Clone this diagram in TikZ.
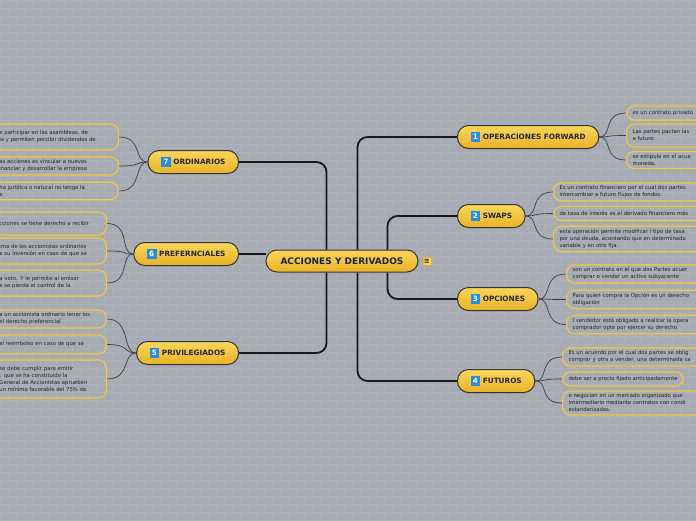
\documentclass[tikz,border=0pt]{standalone}
\usepackage{fontspec}
\setmainfont{DejaVu Sans}
\usetikzlibrary{positioning, calc, backgrounds}

\definecolor{bgGray}{RGB}{166,171,180}
\definecolor{brickLine}{RGB}{173,178,186}
\definecolor{ylwTop}{RGB}{250,214,92}
\definecolor{ylwBot}{RGB}{233,178,38}
\definecolor{leafEdge}{RGB}{244,198,66}
\definecolor{navy}{RGB}{26,36,66}
\definecolor{badgeBlue}{RGB}{40,140,225}
\definecolor{twigGray}{RGB}{58,62,68}
\definecolor{inkGray}{RGB}{34,34,34}

\newcommand{\numbadge}[1]{{\setlength{\fboxsep}{2.1pt}\colorbox{badgeBlue}{\makebox[5.6pt]{\color{white}#1}}}}

\begin{document}
\begin{tikzpicture}[x=1pt, y=-1pt,
  root/.style={rectangle, rounded corners=11pt, draw=black!80, line width=1pt,
               top color=ylwTop, bottom color=ylwBot, minimum width=152pt, minimum height=22pt,
               font=\fontsize{9}{10}\selectfont\bfseries, text=navy},
  branch/.style={rectangle, rounded corners=11pt, draw=black!80, line width=1pt,
                 top color=ylwTop, bottom color=ylwBot, minimum height=23pt, inner xsep=13pt,
                 font=\fontsize{7.3}{8}\selectfont\bfseries, text=black!85},
  leaf/.style={rectangle, rounded corners=8pt, draw=leafEdge, line width=1.2pt, minimum height=14pt,
               inner xsep=6pt, inner ysep=3pt, align=left, font=\fontsize{5.3}{7}\selectfont, text=inkGray},
  trunk/.style={line width=1.8pt, draw=black!90, rounded corners=10pt},
  twig/.style={line width=0.7pt, draw=twigGray}
]
\useasboundingbox (0,0) rectangle (696,520);
\clip (0,0) rectangle (696,520);

% centre
\node[root] (acc) at (342,261) {ACCIONES Y DERIVADOS};
\node[fill=ylwTop, draw=ylwBot, inner sep=0.6pt, minimum size=8pt, font=\fontsize{7}{7}\selectfont\bfseries,
      text=navy, right=4pt of acc] (note) {≡};

% derivados
\node[branch, anchor=west] (fwd) at (457,137) {\numbadge{1} OPERACIONES FORWARD};
\node[branch, anchor=west] (swp) at (457,216) {\numbadge{2} SWAPS};
\node[branch, anchor=west] (opc) at (457,299) {\numbadge{3} OPCIONES};
\node[branch, anchor=west] (fut) at (457,381) {\numbadge{4} FUTUROS};

% acciones
\node[branch, anchor=east] (ord) at (239,162) {\numbadge{7} ORDINARIOS};
\node[branch, anchor=east] (pre) at (239,254) {\numbadge{6} PREFERNCIALES};
\node[branch, anchor=east] (pri) at (239,353) {\numbadge{5} PRIVILEGIADOS};

% leaves, right
\node[leaf, anchor=west, text width=150pt] (f1) at (626,113) {es un contrato privado};
\node[leaf, anchor=west, text width=150pt, minimum height=23pt] (f2) at (626,135.5) {Las partes pactan las\\a futuro.};
\node[leaf, anchor=west, text width=150pt] (f3) at (626,160) {se estipula en el acue\\moneda.};

\node[leaf, anchor=west, text width=150pt] (s1) at (553,192) {Es un contrato financiero por el cual dos partes\\intercambiar a futuro flujos de fondos.};
\node[leaf, anchor=west, text width=150pt] (s2) at (553,213.5) {de tasa de interés es el derivado financiero más};
\node[leaf, anchor=west, text width=150pt] (s3) at (553,239) {esta operación permite modificar l tipo de tasa\\por una deuda, acordando que en determinado\\variable y en otro fija.};

\node[leaf, anchor=west, text width=150pt] (o1) at (566,274) {son un contrato en el que dos Partes acuer\\comprar o vender un activo subyacente};
\node[leaf, anchor=west, text width=150pt] (o2) at (566,299.5) {Para quien compra la Opción es un derecho\\obligación};
\node[leaf, anchor=west, text width=150pt] (o3) at (566,324.5) {l vendedor está obligado a realizar la opera\\comprador opta por ejercer su derecho.};

\node[leaf, anchor=west, text width=150pt] (u1) at (562,357) {Es un acuerdo por el cual dos partes se oblig\\comprar y otra a vender, una determinada ca};
\node[leaf, anchor=west] (u2) at (562,379) {debe ser a precio fijado anticipadamente};
\node[leaf, anchor=west, text width=150pt] (u3) at (562,403) {e negocian en un mercado organizado que\\intermediario mediante contratos con condi\\estandarizadas.};

% leaves, left
\node[leaf, anchor=east, text width=113pt, minimum height=26pt] (r1) at (119,137) {e participar en las asambleas, de\\ia y permiten percibir dividendos de};
\node[leaf, anchor=east, text width=113pt] (r2) at (119,166) {as acciones es vincular a nuevos\\inanciar y desarrollar la empresa};
\node[leaf, anchor=east, text width=113pt] (r3) at (119,191) {na jurídica o natural no tenga la\\e};

\node[leaf, anchor=east, text width=101pt, minimum height=23pt] (p1) at (107,223.5) {cciones se tiene derecho a recibir};
\node[leaf, anchor=east, text width=101pt, minimum height=26pt] (p2) at (107,251) {ima de los accionistas ordinarios\\e su inversión en caso de que se};
\node[leaf, anchor=east, text width=101pt, minimum height=26pt] (p3) at (107,283) {a voto. Y le permite al emisor\\e se pierda el control de la};

\node[leaf, anchor=east, text width=101pt] (v1) at (107,319) {a un accionista ordinario tener los\\el derecho preferencial};
\node[leaf, anchor=east, text width=101pt, minimum height=19pt] (v2) at (107,344.5) {el reembolso en caso de que se};
\node[leaf, anchor=east, text width=101pt, minimum height=38pt] (v3) at (107,379) {se debe cumplir para emitir\\: que se ha constituido la\\General de Accionistas aprueben\\un mínimo favorable del 75\% de};

\begin{scope}[on background layer]
  \clip (0,0) rectangle (696,520);
  \fill[bgGray] (0,0) rectangle (696,520);
  % brick texture
  \foreach \r [evaluate=\r as \off using {mod(\r,2)*8}] in {0,...,65} {
    \draw[brickLine, line width=0.5pt] (0,\r*8) -- (696,\r*8);
    \foreach \c in {0,...,44}
      \draw[brickLine, line width=0.5pt] ({\c*16+\off},{\r*8}) -- ++(0,8);
  }

  % main branches
  \draw[trunk] (ord.east) -| ([xshift=61pt]acc.north west);
  \draw[trunk] (pre.east) -- (pre.east -| acc.west);
  \draw[trunk] (pri.east) -| ([xshift=61pt]acc.south west);
  \draw[trunk] ([xshift=92pt]acc.north west) |- (fwd.west);
  \draw[trunk] ([xshift=122pt]acc.north west) |- (swp.west);
  \draw[trunk] ([xshift=122pt]acc.south west) |- (opc.west);
  \draw[trunk] ([xshift=92pt]acc.south west) |- (fut.west);

  % twigs
  \foreach \b/\l in {fwd/f1, fwd/f2, fwd/f3, swp/s1, swp/s2, swp/s3, opc/o1, opc/o2, opc/o3, fut/u1, fut/u2, fut/u3}
    \draw[twig] (\b.east) .. controls +(14,0) and +(-24,0) .. (\l.west);
  \foreach \b/\l in {ord/r1, ord/r2, ord/r3, pre/p1, pre/p2, pre/p3, pri/v1, pri/v2, pri/v3}
    \draw[twig] (\b.west) .. controls +(-14,0) and +(24,0) .. (\l.east);
\end{scope}
\end{tikzpicture}
\end{document}
